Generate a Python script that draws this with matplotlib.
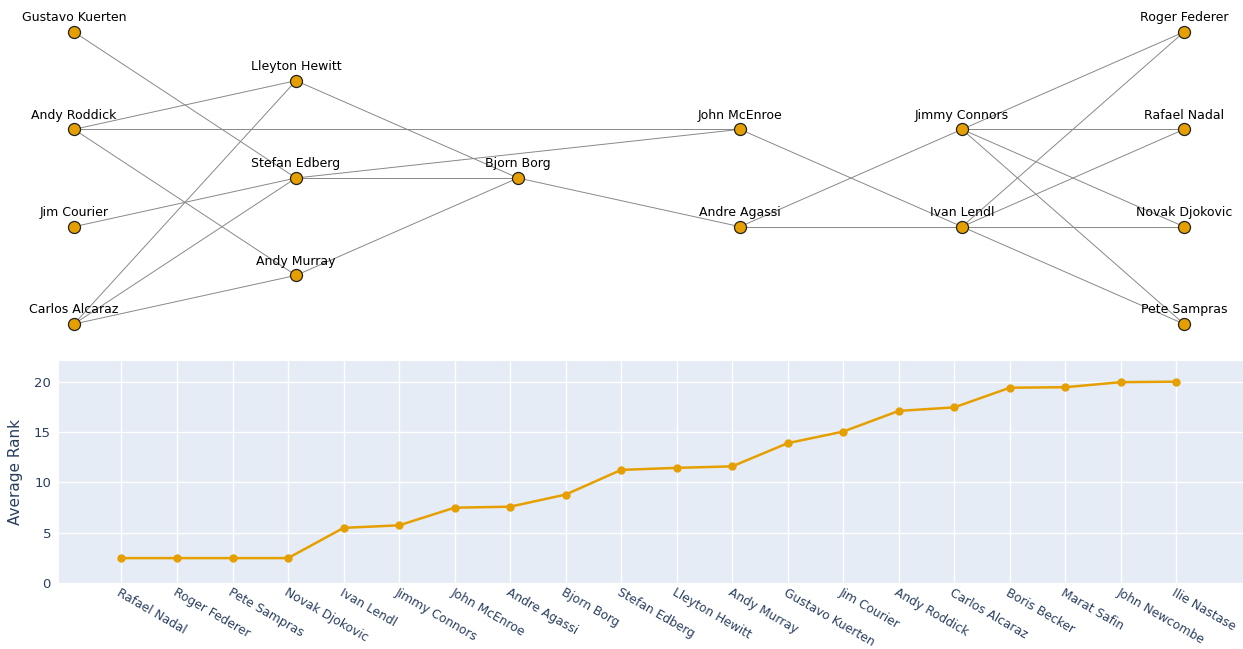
import numpy as np
import matplotlib
matplotlib.use("Agg")
import matplotlib.pyplot as plt

# ---- network data: (layer, slot) layout positions ----
node_names = ["Gustavo Kuerten", "Andy Roddick", "Jim Courier", "Carlos Alcaraz",
              "Lleyton Hewitt", "Stefan Edberg", "Andy Murray",
              "Bjorn Borg",
              "John McEnroe", "Andre Agassi",
              "Jimmy Connors", "Ivan Lendl",
              "Roger Federer", "Rafael Nadal", "Novak Djokovic", "Pete Sampras"]
node_layer = [0, 0, 0, 0, 1, 1, 1, 2, 3, 3, 4, 4, 5, 5, 5, 5]
node_slot = [0, 2, 4, 6, 1, 3, 5, 3, 2, 4, 2, 4, 0, 2, 4, 6]

edges = [
    ("Gustavo Kuerten", "Stefan Edberg"),
    ("Andy Roddick", "Lleyton Hewitt"),
    ("Andy Roddick", "John McEnroe"),
    ("Andy Roddick", "Andy Murray"),
    ("Jim Courier", "Stefan Edberg"),
    ("Carlos Alcaraz", "Lleyton Hewitt"),
    ("Carlos Alcaraz", "Stefan Edberg"),
    ("Carlos Alcaraz", "Andy Murray"),
    ("Lleyton Hewitt", "Bjorn Borg"),
    ("Stefan Edberg", "Bjorn Borg"),
    ("Stefan Edberg", "John McEnroe"),
    ("Andy Murray", "Bjorn Borg"),
    ("Bjorn Borg", "Andre Agassi"),
    ("John McEnroe", "Ivan Lendl"),
    ("Andre Agassi", "Jimmy Connors"),
    ("Andre Agassi", "Ivan Lendl"),
    ("Jimmy Connors", "Roger Federer"),
    ("Jimmy Connors", "Rafael Nadal"),
    ("Jimmy Connors", "Novak Djokovic"),
    ("Jimmy Connors", "Pete Sampras"),
    ("Ivan Lendl", "Roger Federer"),
    ("Ivan Lendl", "Rafael Nadal"),
    ("Ivan Lendl", "Novak Djokovic"),
    ("Ivan Lendl", "Pete Sampras"),
]

# ---- average rank data ----
players = ["Rafael Nadal", "Roger Federer", "Pete Sampras", "Novak Djokovic",
           "Ivan Lendl", "Jimmy Connors", "John McEnroe", "Andre Agassi",
           "Bjorn Borg", "Stefan Edberg", "Lleyton Hewitt", "Andy Murray",
           "Gustavo Kuerten", "Jim Courier", "Andy Roddick", "Carlos Alcaraz",
           "Boris Becker", "Marat Safin", "John Newcombe", "Ilie Nastase"]
avg_rank = [2.5, 2.5, 2.5, 2.5, 5.5, 5.75, 7.5, 7.6, 8.8, 11.25,
            11.45, 11.6, 13.9, 15.05, 17.1, 17.45, 19.4, 19.45, 19.95, 20.0]

orange = "#E69F00"
font_col = "#2a3f5f"

fig = plt.figure(figsize=(12.43, 6.49), dpi=100)

# network panel
axn = fig.add_axes([0, 1 - 345 / 649, 1, 345 / 649])
axn.set_xlim(-74 / 222, (1243 - 74) / 222)
axn.set_ylim((345 - 32) / 48.67, -32 / 48.67)
axn.axis("off")

pos = {n: (l, s) for n, l, s in zip(node_names, node_layer, node_slot)}
for a, b in edges:
    axn.plot([pos[a][0], pos[b][0]], [pos[a][1], pos[b][1]],
             color="#888888", lw=0.7, zorder=1)
axn.scatter(node_layer, node_slot, s=75, c=orange, edgecolors="#222222",
            linewidths=0.9, zorder=3)
for n, l, s in zip(node_names, node_layer, node_slot):
    axn.annotate(n, (l, s), xytext=(0, 5.5), textcoords="offset points",
                 ha="center", va="bottom", fontsize=9, color="black")

# line panel
ax = fig.add_axes([59.3 / 1243, (649 - 583.3) / 649,
                   (1243 - 59.3) / 1243, (583.3 - 361) / 649])
x = np.arange(len(players))
ax.set_facecolor("#E5ECF6")
ax.plot(x, avg_rank, color=orange, lw=1.8, marker="o", ms=5, zorder=3)
ax.set_xlim(-1.12, 20.2)
ax.set_ylim(0, 22.05)
ax.set_yticks([0, 5, 10, 15, 20])
ax.set_xticks(x)
ax.set_xticklabels(players, rotation=-30, ha="left", va="top",
                   rotation_mode="anchor", fontsize=8.8, color=font_col)
ax.tick_params(axis="y", labelsize=9.5, labelcolor=font_col, length=0, pad=6)
ax.tick_params(axis="x", length=0, pad=2)
ax.grid(True, color="white", lw=1)
ax.set_axisbelow(True)
for sp in ax.spines.values():
    sp.set_visible(False)
ax.set_ylabel("Average Rank", fontsize=11, color=font_col, labelpad=8)

fig.savefig("out.png", dpi=100)
